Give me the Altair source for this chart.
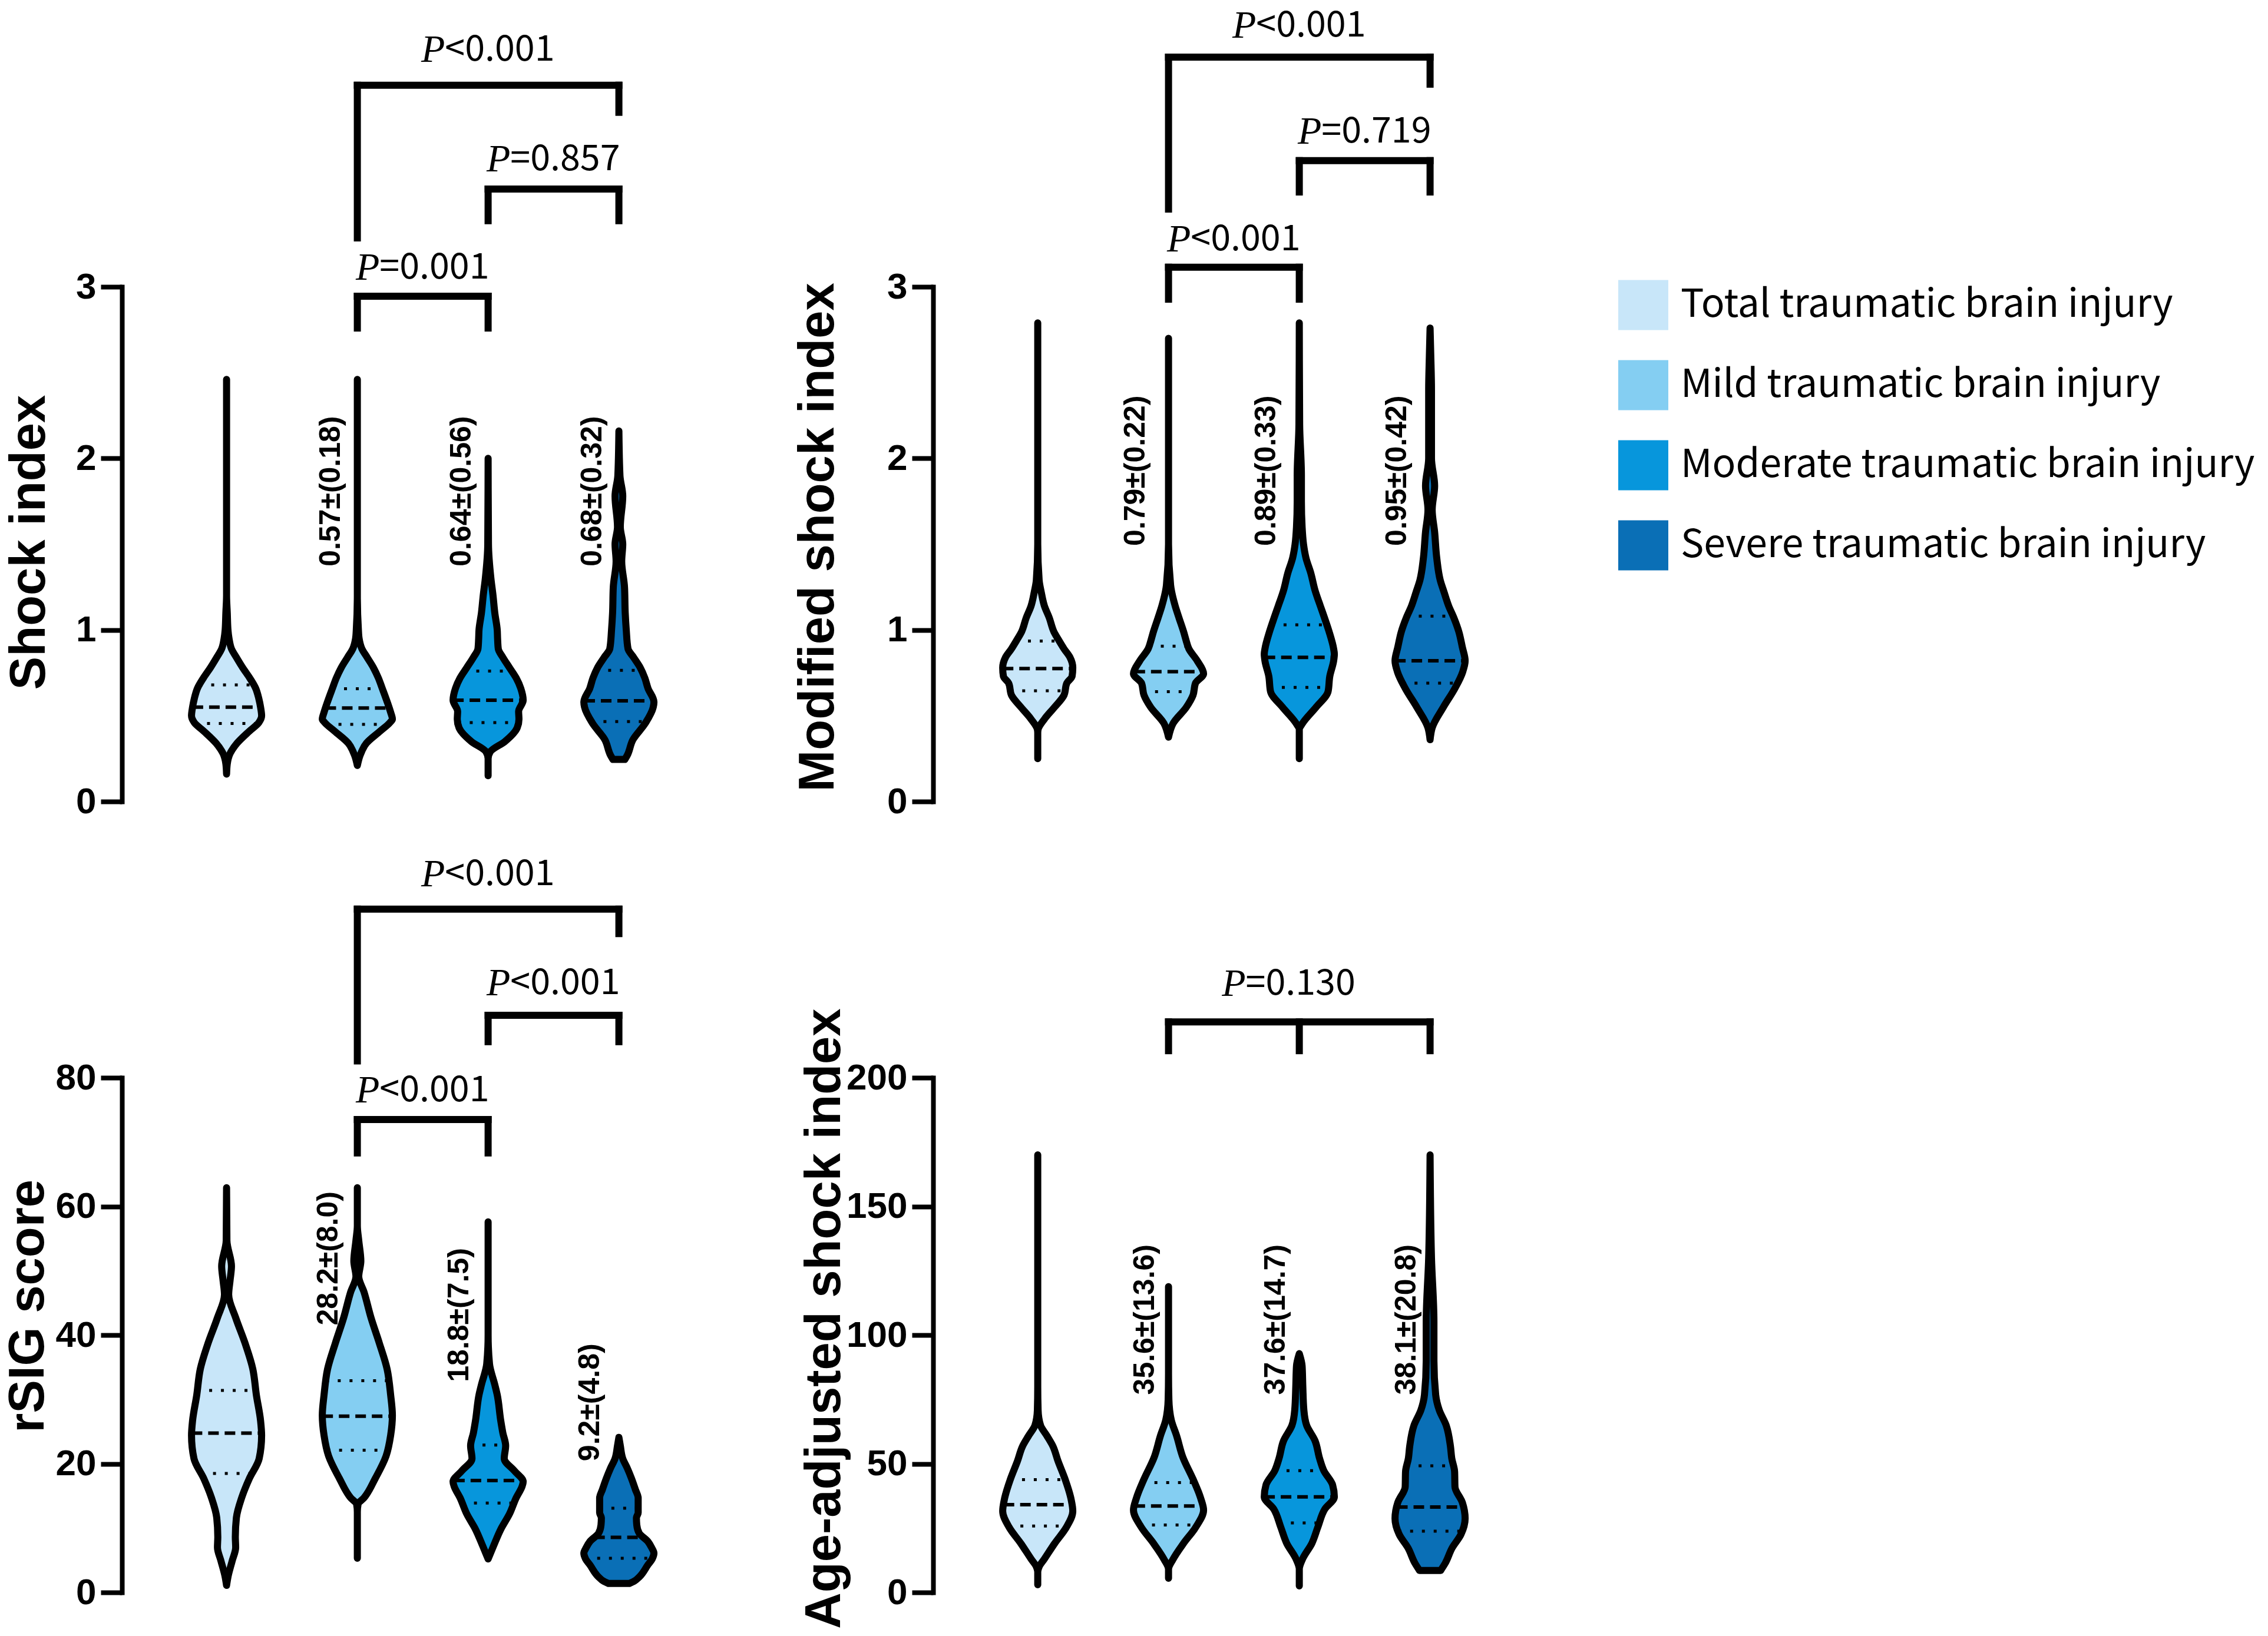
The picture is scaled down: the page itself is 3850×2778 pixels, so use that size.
import altair as alt
import numpy as np
import pandas as pd

GROUPS = ["Total traumatic brain injury", "Mild traumatic brain injury",
          "Moderate traumatic brain injury", "Severe traumatic brain injury"]
COLORS = ["#C8E6F9", "#84CEF2", "#0796DC", "#0A6FB6"]
POSITIONS = [1, 2, 3, 4]

# ---------------- Shock index: violin outlines [value, relative density] ----------------
SI_TOTAL = [[0.16, 0], [0.22, 0.02], [0.28, 0.10], [0.34, 0.30], [0.41, 0.65], [0.46, 0.92], [0.50, 1.0],
            [0.55, 0.97], [0.60, 0.92], [0.66, 0.83], [0.72, 0.66], [0.78, 0.46], [0.84, 0.28], [0.89, 0.14],
            [0.95, 0.07], [1.0, 0.04], [1.1, 0.02], [1.2, 0.0], [2.46, 0]]
SI_MILD = [[0.21, 0], [0.27, 0.08], [0.34, 0.26], [0.41, 0.65], [0.46, 0.93], [0.48, 1.0], [0.52, 0.95],
           [0.57, 0.87], [0.66, 0.71], [0.72, 0.60], [0.78, 0.46], [0.84, 0.28], [0.89, 0.13], [0.95, 0.05],
           [1.0, 0.03], [1.2, 0.0], [2.46, 0]]
SI_MODERATE = [[0.15, 0], [0.25, 0.0], [0.29, 0.06], [0.35, 0.48], [0.43, 0.83], [0.48, 0.88], [0.525, 0.87],
               [0.59, 1.0], [0.66, 0.93], [0.72, 0.80], [0.78, 0.61], [0.84, 0.42], [0.89, 0.29], [0.95, 0.27],
               [1.0, 0.26], [1.1, 0.19], [1.2, 0.14], [1.3, 0.08], [1.5, 0.01], [2.0, 0]]
SI_SEVERE = [[0.245, 0.17], [0.27, 0.24], [0.36, 0.40], [0.455, 0.75], [0.55, 0.98], [0.58, 1.0], [0.66, 0.83],
             [0.72, 0.74], [0.78, 0.61], [0.84, 0.42], [0.89, 0.26], [1.0, 0.21], [1.1, 0.18], [1.25, 0.16],
             [1.4, 0.08], [1.5, 0.11], [1.6, 0.04], [1.78, 0.11], [1.9, 0.03], [2.16, 0]]
SI_MEDIAN = [0.55, 0.545, 0.59, 0.587]
SI_Q1 = [0.455, 0.45, 0.46, 0.466]
SI_Q3 = [0.68, 0.657, 0.76, 0.765]
SI_STATS = ["0.57±(0.18)", "0.64±(0.56)", "0.68±(0.32)"]

# ---------------- Modified shock index ----------------
MSI_TOTAL = [[0.25, 0], [0.40, 0], [0.42, 0.01], [0.48, 0.19], [0.55, 0.48], [0.62, 0.75], [0.69, 0.83],
             [0.73, 0.98], [0.78, 1.0], [0.84, 0.92], [0.89, 0.75], [0.94, 0.6], [0.99, 0.46], [1.07, 0.33],
             [1.14, 0.19], [1.22, 0.1], [1.29, 0.04], [1.5, 0.0], [2.79, 0]]
MSI_MILD = [[0.375, 0], [0.455, 0.13], [0.55, 0.51], [0.62, 0.70], [0.69, 0.77], [0.745, 1.0], [0.82, 0.82],
            [0.89, 0.58], [0.94, 0.5], [0.99, 0.43], [1.07, 0.3], [1.14, 0.19], [1.26, 0.06], [1.5, 0], [2.70, 0]]
MSI_MODERATE = [[0.25, 0], [0.42, 0], [0.455, 0.09], [0.55, 0.48], [0.64, 0.82], [0.73, 0.87], [0.82, 0.98],
                [0.86, 1.0], [0.89, 0.98], [0.99, 0.85], [1.07, 0.72], [1.14, 0.6], [1.23, 0.45], [1.33, 0.33],
                [1.42, 0.19], [1.5, 0.12], [1.6, 0.08], [1.75, 0.06], [1.9, 0.06], [2.2, 0.01], [2.79, 0]]
MSI_SEVERE = [[0.36, 0], [0.43, 0.06], [0.55, 0.38], [0.66, 0.71], [0.755, 0.93], [0.82, 1.0], [0.9, 0.92],
              [0.99, 0.82], [1.07, 0.68], [1.14, 0.53], [1.22, 0.4], [1.29, 0.29], [1.42, 0.19], [1.57, 0.13],
              [1.7, 0.06], [1.84, 0.13], [2.0, 0.04], [2.4, 0.04], [2.6, 0.02], [2.76, 0]]
MSI_MEDIAN = [0.775, 0.757, 0.84, 0.82]
MSI_Q1 = [0.645, 0.64, 0.665, 0.69]
MSI_Q3 = [0.935, 0.905, 1.03, 1.08]
MSI_STATS = ["0.79±(0.22)", "0.89±(0.33)", "0.95±(0.42)"]

# ---------------- rSIG score ----------------
RSIG_TOTAL = [[1.1, 0], [2.4, 0.04], [4.9, 0.16], [7.0, 0.26], [8.6, 0.25], [11.6, 0.28], [14.7, 0.43],
              [17.7, 0.65], [20.8, 0.93], [24.4, 1.0], [26.7, 0.97], [30.7, 0.85], [34.7, 0.75], [38.7, 0.53],
              [42.7, 0.26], [46.3, 0.06], [48.5, 0.1], [50.7, 0.14], [54.7, 0.01], [62.9, 0]]
RSIG_MILD = [[5.3, 0], [12.5, 0], [13.7, 0.02], [14.7, 0.19], [17.7, 0.51], [21.2, 0.82], [24.4, 0.95],
             [27.5, 1.0], [30.7, 0.95], [34.7, 0.85], [38.7, 0.63], [42.7, 0.39], [46.7, 0.19], [49.1, 0.04],
             [51.5, 0.1], [54.7, 0.04], [57.0, 0.0], [62.9, 0]]
RSIG_MODERATE = [[5.2, 0], [7.3, 0.16], [9.8, 0.36], [12.2, 0.61], [14.7, 0.8], [16.5, 0.97], [17.2, 1.0],
                 [18.9, 0.75], [20.8, 0.46], [22.8, 0.5], [24.8, 0.42], [26.7, 0.36], [30.7, 0.26], [32.3, 0.19],
                 [35.5, 0.04], [40.0, 0.0], [57.6, 0]]
RSIG_SEVERE = [[1.4, 0.3], [1.8, 0.45], [2.4, 0.58], [4.3, 0.83], [5.2, 0.95], [6.1, 1.0], [7.0, 0.93],
               [7.9, 0.83], [9.2, 0.58], [10.5, 0.51], [11.6, 0.5], [12.4, 0.55], [14.7, 0.55], [16.0, 0.47],
               [17.7, 0.36], [19.3, 0.24], [20.8, 0.11], [22.8, 0.04], [24.1, 0]]
RSIG_MEDIAN = [24.75, 27.4, 17.4, 8.55]
RSIG_Q1 = [18.5, 22.1, 13.9, 5.3]
RSIG_Q3 = [31.4, 32.9, 22.9, 13.1]
RSIG_STATS = ["28.2±(8.0)", "18.8±(7.5)", "9.2±(4.8)"]

# ---------------- Age-adjusted shock index ----------------
AASI_TOTAL = [[3, 0], [8, 0.0], [10, 0.04], [13, 0.19], [19, 0.48], [25.4, 0.82], [31.6, 1.0], [36.3, 0.95],
              [44, 0.78], [51, 0.58], [56.9, 0.43], [60.9, 0.26], [64.9, 0.08], [70.9, 0.01], [80, 0], [170, 0]]
AASI_MILD = [[5.5, 0], [9, 0.0], [12.9, 0.13], [19.1, 0.43], [25.4, 0.78], [32, 1.0], [36.5, 0.92], [44, 0.7],
             [52.5, 0.41], [60.9, 0.23], [66.9, 0.08], [75, 0.01], [85, 0], [118.8, 0]]
AASI_MODERATE = [[2.5, 0], [9, 0], [12.9, 0.09], [19.1, 0.36], [25.4, 0.53], [32.4, 0.73], [37.1, 1.0],
                 [41.8, 0.95], [47.3, 0.7], [52, 0.58], [58.9, 0.45], [64.9, 0.21], [70.9, 0.13], [80, 0.1],
                 [88, 0.08], [92.8, 0]]
AASI_SEVERE = [[8.5, 0.3], [11.3, 0.43], [17.3, 0.63], [22.5, 0.88], [28.7, 1.0], [35, 0.92], [41, 0.71],
               [46.9, 0.7], [52, 0.62], [56.9, 0.58], [64.9, 0.46], [70.9, 0.26], [76.8, 0.16], [90, 0.11],
               [105, 0.11], [130, 0.04], [170, 0]]
AASI_MEDIAN = [34.1, 33.6, 37.1, 33.2]
AASI_Q1 = [25.8, 26.2, 27.0, 23.8]
AASI_Q3 = [43.8, 42.7, 47.3, 49.2]
AASI_STATS = ["35.6±(13.6)", "37.6±(14.7)", "38.1±(20.8)"]

# ---------------- P-value annotations (groups compared, heights) ----------------
SI_PVALS = [
    {"legs": [[2, 2.76], [3, 2.76]], "top": 2.945, "ty": 3.11, "op": "=0.001"},
    {"legs": [[3, 3.385], [4, 3.385]], "top": 3.57, "ty": 3.74, "op": "=0.857"},
    {"legs": [[2, 3.285], [4, 4.017]], "top": 4.175, "ty": 4.38, "op": "<0.001"},
]
MSI_PVALS = [
    {"legs": [[2, 2.928], [3, 2.928]], "top": 3.114, "ty": 3.275, "op": "<0.001"},
    {"legs": [[3, 3.553], [4, 3.553]], "top": 3.735, "ty": 3.903, "op": "=0.719"},
    {"legs": [[2, 3.453], [4, 4.181]], "top": 4.339, "ty": 4.52, "op": "<0.001"},
]
RSIG_PVALS = [
    {"legs": [[2, 68.3], [3, 68.3]], "top": 73.5, "ty": 78.0, "op": "<0.001"},
    {"legs": [[3, 85.6], [4, 85.6]], "top": 89.7, "ty": 94.6, "op": "<0.001"},
    {"legs": [[2, 82.6], [4, 102.4]], "top": 106.2, "ty": 111.6, "op": "<0.001"},
]
AASI_PVALS = [
    {"legs": [[2, 210.5], [3, 210.5], [4, 210.5]], "top": 221.7, "ty": 236.3, "op": "=0.130", "tx": 2.92},
]

# ---------------- styling ----------------
SANS = "Liberation Sans, Arial, sans-serif"
NARROW = "Noto Sans CJK SC, Noto Sans, sans-serif"
SERIF = "Liberation Serif, Times New Roman, serif"
W, H = 1110, 874
XDOM = [0.2, 5.2]
HALF = 0.268          # widest half-width of a violin, in x units
LW = 12               # outline width
BW = 12               # bracket width
P_SPLIT = 0.33        # distance from centre of a P-label to the end of the italic "P"

color_scale = alt.Scale(domain=GROUPS, range=COLORS)


def make_panel(profiles, medians, q1s, q3s, stats, stat_y, stat_dx, ydom, yvals,
               title, title_x, title_y, pvals):
    ysc = alt.Scale(domain=ydom, nice=False, zero=False)
    xsc = alt.Scale(domain=XDOM, nice=False, zero=False)
    axis = alt.Axis(values=yvals, title=None, grid=False,
                    domainColor="black", domainWidth=8, domainCap="square",
                    tickColor="black", tickWidth=8, tickSize=36,
                    labelFont=SANS, labelFontWeight="bold", labelFontSize=62,
                    labelColor="black", labelPadding=8)

    def Y(f):
        return alt.Y(f, type="quantitative", scale=ysc, axis=axis)

    def X(f):
        return alt.X(f, type="quantitative", scale=xsc, axis=None)

    rows, med_rows, q_rows = [], [], []
    for gi, prof in enumerate(profiles):
        p = POSITIONS[gi]
        for v, d in prof:
            rows.append({"group": GROUPS[gi], "v": v, "lo": p - d * HALF, "hi": p + d * HALF})
        vs = [a for a, _ in prof]
        ds = [b for _, b in prof]
        hm = float(np.interp(medians[gi], vs, ds)) * HALF
        med_rows.append({"v": medians[gi], "lo": p - hm, "hi": p + hm})
        for q in (q1s[gi], q3s[gi]):
            hq = float(np.interp(q, vs, ds)) * HALF
            q_rows.append({"v": q, "lo": p - hq, "hi": p + hq})

    area = alt.Chart(pd.DataFrame(rows)).mark_area(
        orient="horizontal", stroke="black", strokeWidth=LW, strokeJoin="round",
        interpolate="monotone", fillOpacity=1
    ).encode(y=Y("v"), x=X("lo"), x2=alt.X2("hi"),
             fill=alt.Fill("group:N", scale=color_scale, legend=None),
             detail="group:N")

    quart = alt.Chart(pd.DataFrame(q_rows)).mark_rule(
        color="black", strokeWidth=5, strokeDash=[5, 15]
    ).encode(y=Y("v"), x=X("lo"), x2=alt.X2("hi"))

    med = alt.Chart(pd.DataFrame(med_rows)).mark_rule(
        color="black", strokeWidth=6, strokeDash=[18, 10]
    ).encode(y=Y("v"), x=X("lo"), x2=alt.X2("hi"))

    st_rows = [{"x": POSITIONS[k + 1] + stat_dx, "y": stat_y[k], "label": stats[k]} for k in range(3)]
    st = alt.Chart(pd.DataFrame(st_rows)).mark_text(
        angle=270, align="left", baseline="middle", font=SANS, fontSize=50,
        fontWeight="bold", color="black"
    ).encode(x=X("x"), y=Y("y"), text="label:N")

    h_rows, l_rows, t_rows = [], [], []
    for b in pvals:
        xs = [lx for lx, _ in b["legs"]]
        h_rows.append({"x1": min(xs), "x2": max(xs), "y": b["top"]})
        for lx, lb in b["legs"]:
            l_rows.append({"x": lx, "top": b["top"], "bottom": lb})
        tx = b.get("tx", (min(xs) + max(xs)) / 2)
        t_rows.append({"x": tx - P_SPLIT, "y": b["ty"], "p": "P", "rest": b["op"]})

    hb = alt.Chart(pd.DataFrame(h_rows)).mark_rule(
        color="black", strokeWidth=BW, strokeCap="square"
    ).encode(x=X("x1"), x2=alt.X2("x2"), y=Y("y"))
    legs = alt.Chart(pd.DataFrame(l_rows)).mark_rule(
        color="black", strokeWidth=BW, strokeCap="square"
    ).encode(x=X("x"), y=Y("top"), y2=alt.Y2("bottom"))
    tdf = pd.DataFrame(t_rows)
    ptxt = alt.Chart(tdf).mark_text(
        align="right", baseline="middle", font=SERIF, fontStyle="italic", fontSize=66, color="black"
    ).encode(x=X("x"), y=Y("y"), text="p:N")
    rtxt = alt.Chart(tdf).mark_text(
        align="left", baseline="middle", font=NARROW, fontSize=61, color="black"
    ).encode(x=X("x"), y=Y("y"), text="rest:N")

    ttl = alt.Chart(pd.DataFrame([{"x": title_x, "y": title_y, "t": title}])).mark_text(
        angle=270, align="center", baseline="middle", font=SANS, fontSize=85,
        fontWeight="bold", color="black"
    ).encode(x=X("x"), y=Y("y"), text="t:N")

    return alt.layer(area, quart, med, st, hb, legs, ptxt, rtxt, ttl).properties(width=W, height=H)


p1 = make_panel([SI_TOTAL, SI_MILD, SI_MODERATE, SI_SEVERE], SI_MEDIAN, SI_Q1, SI_Q3,
                SI_STATS, [1.37, 1.37, 1.37], -0.2, [0, 3], [0, 1, 2, 3],
                "Shock index", -0.505, 1.51, SI_PVALS)
p2 = make_panel([MSI_TOTAL, MSI_MILD, MSI_MODERATE, MSI_SEVERE], MSI_MEDIAN, MSI_Q1, MSI_Q3,
                MSI_STATS, [1.49, 1.49, 1.49], -0.25, [0, 3], [0, 1, 2, 3],
                "Modified shock index", -0.68, 1.54, MSI_PVALS)
p3 = make_panel([RSIG_TOTAL, RSIG_MILD, RSIG_MODERATE, RSIG_SEVERE], RSIG_MEDIAN, RSIG_Q1, RSIG_Q3,
                RSIG_STATS, [41.5, 32.7, 20.4], -0.22, [0, 80], [0, 20, 40, 60, 80],
                "rSIG score", -0.515, 44.5, RSIG_PVALS)
p4 = make_panel([AASI_TOTAL, AASI_MILD, AASI_MODERATE, AASI_SEVERE], AASI_MEDIAN, AASI_Q1, AASI_Q3,
                AASI_STATS, [76.8, 76.8, 76.8], -0.18, [0, 200], [0, 50, 100, 150, 200],
                "Age-adjusted shock index", -0.63, 106.4, AASI_PVALS)

# legend panel
leg_df = pd.DataFrame({"group": GROUPS, "row": list(range(len(GROUPS)))})
lys = alt.Scale(domain=[-0.228, 6.199], reverse=True, nice=False, zero=False)
sq = alt.Chart(leg_df).mark_square(size=7225, opacity=1, strokeWidth=0).encode(
    x=alt.value(-171.5), y=alt.Y("row:Q", scale=lys, axis=None),
    fill=alt.Fill("group:N", scale=color_scale, legend=None))
lt = alt.Chart(leg_df).mark_text(align="left", baseline="middle", font=NARROW, fontSize=66,
                                 color="black").encode(
    x=alt.value(-108), y=alt.Y("row:Q", scale=lys, axis=None), text="group:N")
legend = alt.layer(sq, lt).properties(width=600, height=H)

chart = alt.concat(p1, p2, legend, p3, p4, columns=3, align="each",
                   spacing={"row": 469, "column": 267}, bounds="flush").configure_view(
    stroke=None).properties(padding={"left": -2, "top": 3, "right": 0, "bottom": 0},
                            background="white")

chart.save("out.html", embed_options={"renderer": "svg", "actions": False})
